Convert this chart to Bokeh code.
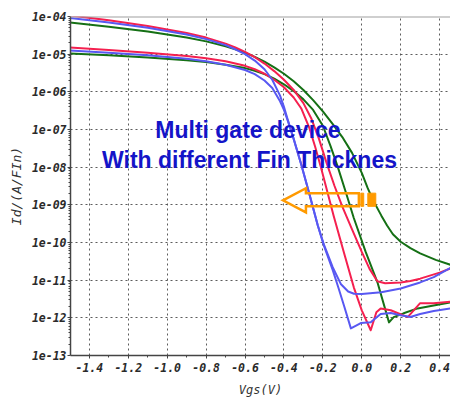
from bokeh.plotting import figure
from bokeh.models import Range1d, FixedTicker, CustomJSTickFormatter, Label, Span
from bokeh.embed import file_html
from bokeh.resources import INLINE

# ---------------- data (Vgs in V, Id as log10(A/Fin)) ----------------
red_high_v = [-1.5, -1.3, -1.1, -0.9, -0.8, -0.7, -0.65, -0.6, -0.55, -0.5, -0.45, -0.4, -0.35, -0.3, -0.26, -0.22,
              -0.18, -0.14, -0.1, -0.05, 0.0, 0.04, 0.08, 0.12, 0.2, 0.25, 0.3, 0.35, 0.4, 0.46]
red_high_log = [-3.97, -4.10, -4.25, -4.44, -4.56, -4.72, -4.82, -4.94, -5.08, -5.25, -5.45, -5.68, -5.95, -6.30, -6.70, -7.25,
                -7.90, -8.50, -9.05, -9.65, -10.25, -10.70, -11.03, -11.08, -11.06, -11.02, -10.96, -10.88, -10.80, -10.68]

red_low_v = [-1.5, -1.3, -1.1, -0.9, -0.8, -0.7, -0.6, -0.55, -0.5, -0.45, -0.4, -0.35, -0.31, -0.27, -0.24, -0.21,
             -0.144, -0.09, -0.041, 0.0, 0.046, 0.075, 0.097, 0.149, 0.236, 0.30, 0.369, 0.46]
red_low_log = [-4.82, -4.89, -4.96, -5.05, -5.11, -5.19, -5.31, -5.40, -5.52, -5.68, -5.88, -6.15, -6.45, -6.95, -7.45, -8.00,
               -9.30, -10.30, -11.19, -11.80, -12.33, -11.85, -11.75, -11.80, -11.98, -11.61, -11.61, -11.57]

green_high_v = [-1.5, -1.3, -1.1, -0.9, -0.8, -0.7, -0.65, -0.6, -0.55, -0.5, -0.45, -0.4, -0.35, -0.3, -0.25, -0.2,
                -0.15, -0.1, -0.05, 0.0, 0.03, 0.06, 0.1, 0.13, 0.16, 0.2, 0.25, 0.3, 0.38, 0.46]
green_high_log = [-4.16, -4.27, -4.40, -4.56, -4.66, -4.79, -4.87, -4.96, -5.07, -5.20, -5.35, -5.52, -5.72, -5.95, -6.22, -6.52,
                  -6.85, -7.20, -7.62, -8.15, -8.55, -8.90, -9.28, -9.55, -9.78, -9.98, -10.15, -10.29, -10.46, -10.60]

green_low_v = [-1.5, -1.3, -1.1, -0.9, -0.8, -0.7, -0.6, -0.55, -0.5, -0.45, -0.4, -0.35, -0.3, -0.25, -0.2, -0.16,
               -0.123, -0.08, -0.041, 0.02, 0.082, 0.14, 0.164, 0.215, 0.287, 0.369, 0.46]
green_low_log = [-4.98, -5.03, -5.09, -5.16, -5.21, -5.28, -5.37, -5.44, -5.53, -5.65, -5.80, -5.98, -6.20, -6.48, -6.90, -7.45,
                 -8.00, -8.70, -9.35, -10.25, -11.08, -12.12, -11.98, -11.88, -11.75, -11.67, -11.59]

blue_high_v = [-1.5, -1.3, -1.1, -0.9, -0.8, -0.7, -0.65, -0.6, -0.55, -0.5, -0.46, -0.42, -0.4, -0.38, -0.35, -0.31,
               -0.27, -0.226, -0.195, -0.15, -0.108, -0.07, -0.04, 0.0, 0.1, 0.2, 0.25, 0.3, 0.37, 0.46]
blue_high_log = [-4.04, -4.16, -4.30, -4.48, -4.60, -4.76, -4.87, -5.00, -5.17, -5.40, -5.68, -6.10, -6.40, -6.75, -7.25, -7.95,
                 -8.70, -9.55, -10.05, -10.65, -11.10, -11.30, -11.36, -11.37, -11.32, -11.22, -11.14, -11.06, -10.92, -10.66]

blue_low_v = [-1.5, -1.3, -1.1, -0.9, -0.8, -0.7, -0.6, -0.55, -0.5, -0.46, -0.42, -0.4, -0.38, -0.35, -0.31, -0.27,
              -0.226, -0.195, -0.15, -0.12, -0.09, -0.056, -0.005, 0.046, 0.097, 0.149, 0.2, 0.25, 0.3, 0.37, 0.46]
blue_low_log = [-4.90, -4.96, -5.03, -5.12, -5.19, -5.28, -5.42, -5.53, -5.70, -5.90, -6.25, -6.48, -6.77, -7.25, -7.95, -8.70,
                -9.55, -10.08, -10.72, -11.20, -11.70, -12.28, -12.14, -12.12, -11.90, -11.87, -11.93, -11.98, -11.90, -11.82, -11.75]

x_ticks = [-1.4, -1.2, -1.0, -0.8, -0.6, -0.4, -0.2, 0.0, 0.2, 0.4]
x_tick_labels = ["-1.4", "-1.2", "-1.0", "-0.8", "-0.6", "-0.4", "-0.2", "0.0", "0.2", "0.4"]
y_tick_exps = [-13, -12, -11, -10, -9, -8, -7, -6, -5, -4]
y_tick_labels = ["1e-13", "1e-12", "1e-11", "1e-10", "1e-09", "1e-08", "1e-07", "1e-06", "1e-05", "1e-04"]

annotation_lines = ["Multi gate device", "With different Fin Thicknes"]

# ---------------- figure ----------------
p = figure(width=450, height=400, output_backend="svg", toolbar_location=None,
           y_axis_type="log",
           x_range=Range1d(-1.497, 0.456), y_range=Range1d(1e-13, 1e-4),
           min_border_left=70, min_border_right=0, min_border_top=16, min_border_bottom=45)
p.outline_line_color = None
p.background_fill_color = "white"

# grid
for g in (p.xgrid, p.ygrid):
    g.grid_line_color = "#4a4a4a"
    g.grid_line_dash = "2 3"
    g.grid_line_width = 1
    g.grid_line_alpha = 0.9

# axes
tick_font = "DejaVu Sans Mono"
p.xaxis.ticker = FixedTicker(ticks=x_ticks, minor_ticks=[round(-1.5 + 0.1 * i, 2) for i in range(20)])
p.xaxis.formatter = CustomJSTickFormatter(args=dict(xvals=x_ticks, xlabs=x_tick_labels), code="""
    let best = 0; let d = 1e9;
    for (let i = 0; i < xvals.length; i++) { const e = Math.abs(xvals[i] - tick); if (e < d) { d = e; best = i; } }
    return xlabs[best];
""")
yt = [10.0 ** e for e in y_tick_exps]
ym = [m * 10.0 ** e for e in y_tick_exps[:-1] for m in range(2, 10)]
p.yaxis.ticker = FixedTicker(ticks=yt, minor_ticks=ym)
p.yaxis.formatter = CustomJSTickFormatter(args=dict(yexps=y_tick_exps, ylabs=y_tick_labels), code="""
    const e = Math.round(Math.log10(tick));
    const i = yexps.indexOf(e);
    return i >= 0 ? ylabs[i] : "";
""")

for ax in (p.xaxis[0], p.yaxis[0]):
    ax.axis_line_color = "#444444"
    ax.axis_line_width = 1.5
    ax.major_tick_line_color = "#444444"
    ax.minor_tick_line_color = "#444444"
    ax.major_tick_in = 0
    ax.major_tick_out = 3
    ax.minor_tick_in = 0
    ax.minor_tick_out = 2
    ax.major_label_text_font = tick_font
    ax.major_label_text_font_style = "bold italic"
    ax.major_label_text_font_size = "11.5px"
    ax.major_label_text_color = "#2a2a2a"
    ax.axis_label_text_font = tick_font
    ax.axis_label_text_font_style = "italic"
    ax.axis_label_text_font_size = "12px"
    ax.axis_label_text_color = "#333333"

p.xaxis.axis_label = "Vgs(V)"
p.xaxis.major_label_standoff = 4
p.xaxis.axis_label_standoff = 8
p.yaxis.axis_label = "Id/(A/FIn)"
p.yaxis.axis_label_text_font_size = "13px"
p.yaxis.major_label_standoff = 1
p.yaxis.axis_label_standoff = 5

# top border line
p.add_layout(Span(location=1e-4, dimension="width", line_color="#a0a0a0", line_width=2))

# curves
RED = "#f5204f"
BLUE = "#5858f2"
GREEN = "#157015"
curves = [
    (green_high_v, green_high_log, GREEN),
    (green_low_v, green_low_log, GREEN),
    (red_high_v, red_high_log, RED),
    (red_low_v, red_low_log, RED),
    (blue_high_v, blue_high_log, BLUE),
    (blue_low_v, blue_low_log, BLUE),
]
for xs, ls, c in curves:
    p.line(xs, [10.0 ** l for l in ls], line_color=c, line_width=2, line_join="round")

# annotation text
TEXT_BLUE = "#1414c8"
p.add_layout(Label(x=-0.585, y=10 ** -7.37, text=annotation_lines[0], text_align="center",
                   text_font="Liberation Sans", text_font_style="bold", text_font_size="23px",
                   text_color=TEXT_BLUE))
p.add_layout(Label(x=-0.577, y=10 ** -8.16, text=annotation_lines[1], text_align="center",
                   text_font="Liberation Sans", text_font_style="bold", text_font_size="23px",
                   text_color=TEXT_BLUE))

# striped arrow (annotation shape, data units)
ORANGE = "#ff9a00"
arrow_x = [-0.405, -0.287, -0.287, -0.015, -0.015, -0.287, -0.287]
arrow_y = [10 ** -8.88, 10 ** -8.56, 10 ** -8.69, 10 ** -8.69, 10 ** -9.04, 10 ** -9.04, 10 ** -9.20]
p.patch(arrow_x, arrow_y, fill_alpha=0, line_color=ORANGE, line_width=2.5, line_join="miter")
p.quad(left=[-0.005, 0.031], right=[0.010, 0.072], top=[10 ** -8.69] * 2, bottom=[10 ** -9.04] * 2,
       fill_color=ORANGE, line_color=ORANGE, line_width=1)

open("out.html", "w").write(file_html(p, INLINE))
